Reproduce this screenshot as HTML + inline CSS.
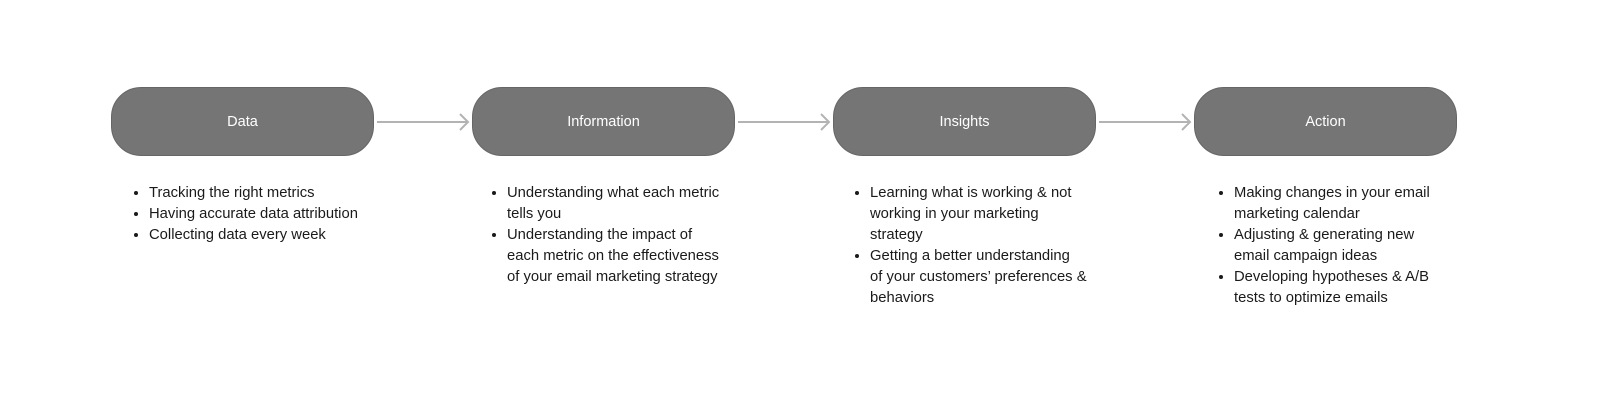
<!DOCTYPE html>
<html><head><style>
body{margin:0;width:1600px;height:400px;background:#fff;position:relative;font-family:"Liberation Sans",sans-serif;overflow:hidden}
.box{position:absolute;top:87px;width:261px;height:67px;background:#757575;border:1px solid #666;border-radius:30px;color:#fff;font-size:14.5px;display:flex;align-items:center;justify-content:center}
ul{position:absolute;top:183px;margin:0;padding-left:18px;font-size:14.8px;line-height:21px;color:#1a1a1a;list-style:disc;white-space:nowrap}
</style></head><body>
<div class="box" style="left:111px">Data</div>
<div class="box" style="left:472px">Information</div>
<div class="box" style="left:833px">Insights</div>
<div class="box" style="left:1194px">Action</div>
<svg width="1600" height="400" style="position:absolute;left:0;top:0">
<g stroke="#b3b3b3" stroke-width="2" fill="none">
<path d="M377 122H468M460 114L468 122L460 130"/>
<path d="M738 122H829M821 114L829 122L821 130"/>
<path d="M1099 122H1190M1182 114L1190 122L1182 130"/>
</g></svg>
<ul style="left:131px"><li>Tracking the right metrics</li><li>Having accurate data attribution</li><li>Collecting data every week</li></ul>
<ul style="left:489px"><li>Understanding what each metric<br>tells you</li><li>Understanding the impact of<br>each metric on the effectiveness<br>of your email marketing strategy</li></ul>
<ul style="left:852px"><li>Learning what is working &amp; not<br>working in your marketing<br>strategy</li><li>Getting a better understanding<br>of your customers’ preferences &amp;<br>behaviors</li></ul>
<ul style="left:1216px"><li>Making changes in your email<br>marketing calendar</li><li>Adjusting &amp; generating new<br>email campaign ideas</li><li>Developing hypotheses &amp; A/B<br>tests to optimize emails</li></ul>
</body></html>
